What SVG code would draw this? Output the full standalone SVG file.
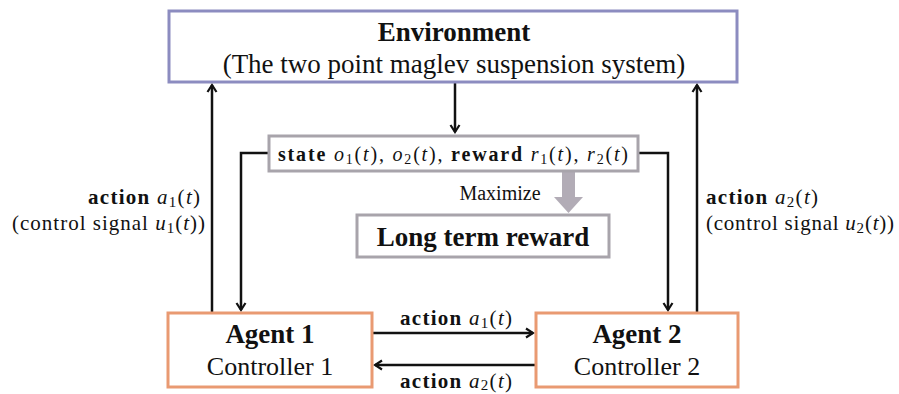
<svg xmlns="http://www.w3.org/2000/svg" width="899" height="394" viewBox="0 0 899 394" font-family="'Liberation Serif', 'DejaVu Serif', serif">
  <style>
    text { font-family: "Liberation Serif", "DejaVu Serif", serif; fill: #111; }
    .b { font-weight: bold; }
    .m { font-style: italic; }
    .env { fill: #fff; stroke: #8c8cc0; stroke-width: 3; }
    .agent { fill: #fff; stroke: #e99a72; stroke-width: 3; }
    .gray { fill: #fff; stroke: #a8a4ab; stroke-width: 3; }
    .wire { fill: none; stroke: #111; stroke-width: 2.5; }
  </style>
  <defs>
    <marker id="head" viewBox="0 0 12 12" refX="10" refY="6" markerWidth="12" markerHeight="12" markerUnits="userSpaceOnUse" orient="auto">
      <path d="M3,1.5 L10,6 L3,10.5" fill="none" stroke="#111" stroke-width="2.2"/>
    </marker>
  </defs>

  <!-- connectors -->
  <g id="connectors">
    <path class="wire" d="M455,83 V132" marker-end="url(#head)"/>
    <path class="wire" d="M269,153 H241 V310" marker-end="url(#head)"/>
    <path class="wire" d="M639,153 H668 V310" marker-end="url(#head)"/>
    <path class="wire" d="M212,313 V85" marker-end="url(#head)"/>
    <path class="wire" d="M697,313 V85" marker-end="url(#head)"/>
    <path class="wire" d="M372,333 H533" marker-end="url(#head)"/>
    <path class="wire" d="M536,365 H375" marker-end="url(#head)"/>
    <!-- maximize arrow -->
    <path d="M562,172 H575 V197 H583 L568.5,213 L554,197 H562 Z" fill="#b2acb6"/>
  </g>

  <g id="environment">
    <rect class="env" x="169" y="11" width="568" height="71"/>
    <text class="b" x="454" y="41" font-size="27" text-anchor="middle">Environment</text>
    <text x="454" y="73" font-size="27" text-anchor="middle">(The two point maglev suspension system)</text>
  </g>

  <g id="state">
    <rect class="gray" x="269" y="136" width="369" height="35"/>
    <text x="278" y="161" font-size="20" textLength="350" lengthAdjust="spacing"><tspan class="b">state </tspan><tspan class="m">o</tspan><tspan font-size="14" dy="3">1</tspan><tspan dy="-3">(</tspan><tspan class="m">t</tspan>), <tspan class="m">o</tspan><tspan font-size="14" dy="3">2</tspan><tspan dy="-3">(</tspan><tspan class="m">t</tspan>), <tspan class="b">reward </tspan><tspan class="m">r</tspan><tspan font-size="14" dy="3">1</tspan><tspan dy="-3">(</tspan><tspan class="m">t</tspan>), <tspan class="m">r</tspan><tspan font-size="14" dy="3">2</tspan><tspan dy="-3">(</tspan><tspan class="m">t</tspan>)</text>
  </g>

  <text x="500" y="200" font-size="20" text-anchor="middle">Maximize</text>

  <g id="long-term-reward">
    <rect class="gray" x="357" y="215" width="252" height="42"/>
    <text class="b" x="483" y="246" font-size="27" text-anchor="middle">Long term reward</text>
  </g>

  <g id="agent1">
    <rect class="agent" x="168" y="313" width="204" height="74"/>
    <text class="b" x="270" y="343" font-size="27" text-anchor="middle">Agent 1</text>
    <text x="270" y="375" font-size="26" text-anchor="middle">Controller 1</text>
  </g>

  <g id="agent2">
    <rect class="agent" x="536" y="313" width="202" height="74"/>
    <text class="b" x="637" y="343" font-size="27" text-anchor="middle">Agent 2</text>
    <text x="637" y="375" font-size="26" text-anchor="middle">Controller 2</text>
  </g>

  <!-- edge labels -->
  <text x="88" y="204" font-size="21" textLength="112" lengthAdjust="spacing"><tspan class="b">action </tspan><tspan class="m">a</tspan><tspan font-size="15" dy="3">1</tspan><tspan dy="-3">(</tspan><tspan class="m">t</tspan>)</text>
  <text x="12" y="230" font-size="21" textLength="193" lengthAdjust="spacing">(control signal <tspan class="m">u</tspan><tspan font-size="15" dy="3">1</tspan><tspan dy="-3">(</tspan><tspan class="m">t</tspan>))</text>
  <text x="706" y="204" font-size="21" textLength="112" lengthAdjust="spacing"><tspan class="b">action </tspan><tspan class="m">a</tspan><tspan font-size="15" dy="3">2</tspan><tspan dy="-3">(</tspan><tspan class="m">t</tspan>)</text>
  <text x="706" y="230" font-size="21" textLength="188" lengthAdjust="spacing">(control signal <tspan class="m">u</tspan><tspan font-size="15" dy="3">2</tspan><tspan dy="-3">(</tspan><tspan class="m">t</tspan>))</text>
  <text x="400" y="325" font-size="21" textLength="112" lengthAdjust="spacing"><tspan class="b">action </tspan><tspan class="m">a</tspan><tspan font-size="15" dy="3">1</tspan><tspan dy="-3">(</tspan><tspan class="m">t</tspan>)</text>
  <text x="400" y="388" font-size="21" textLength="112" lengthAdjust="spacing"><tspan class="b">action </tspan><tspan class="m">a</tspan><tspan font-size="15" dy="2">2</tspan><tspan dy="-2">(</tspan><tspan class="m">t</tspan>)</text>
</svg>
